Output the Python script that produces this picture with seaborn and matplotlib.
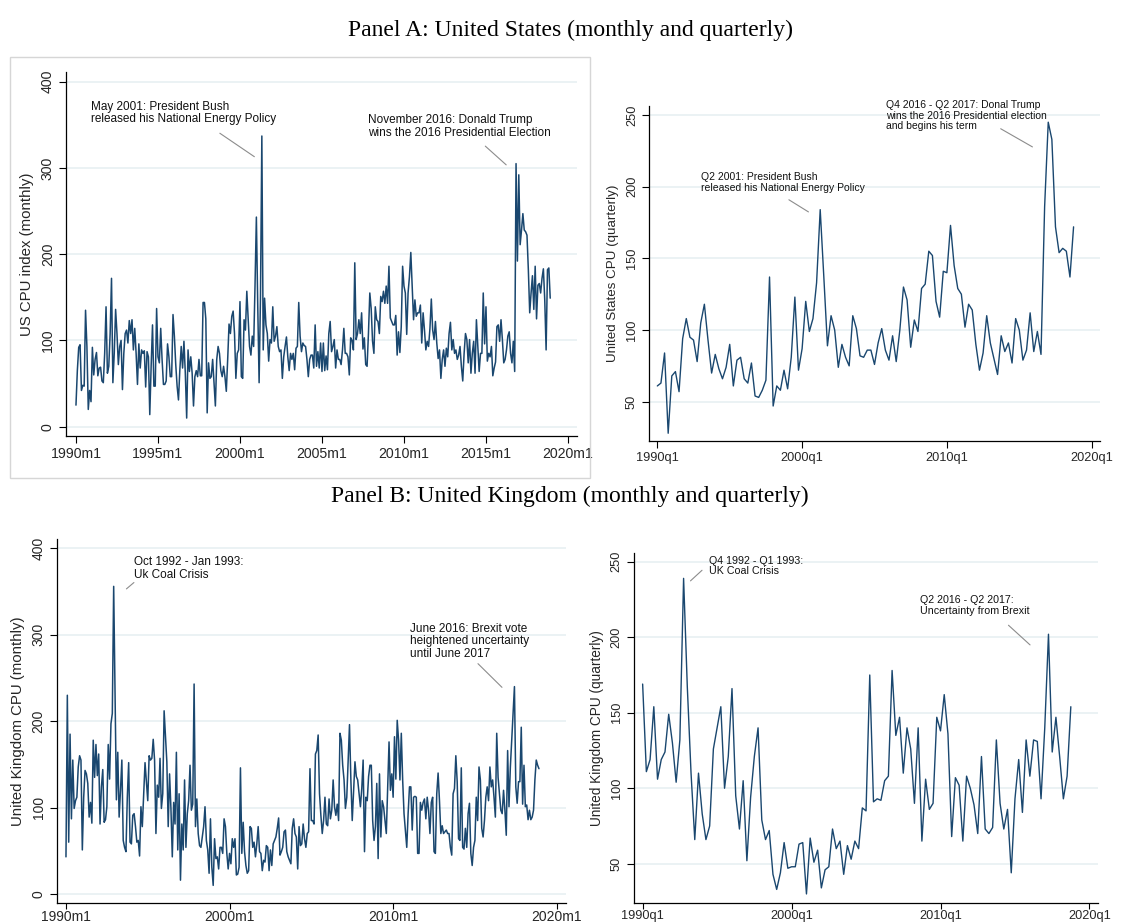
import numpy as np
import pandas as pd
import matplotlib
matplotlib.use("Agg")
import matplotlib.pyplot as plt
import seaborn as sns
from matplotlib.patches import Rectangle

# ---------------- data ----------------
# US monthly CPU index, one row per year 1990..2018 (Jan..Dec)
us_monthly_rows = [
    [25, 65, 92, 95, 42, 48, 47, 135, 93, 20, 42, 29],
    [92, 60, 78, 86, 59, 68, 69, 53, 51, 85, 139, 62],
    [70, 108, 172, 51, 85, 136, 108, 72, 93, 100, 43, 85],
    [108, 112, 97, 123, 108, 124, 89, 114, 85, 49, 96, 68],
    [89, 85, 88, 46, 87, 81, 14, 70, 118, 47, 47, 137],
    [81, 74, 114, 78, 49, 49, 53, 96, 81, 58, 58, 130],
    [105, 72, 47, 31, 66, 93, 68, 99, 62, 10, 89, 64],
    [81, 62, 24, 58, 65, 58, 78, 59, 59, 144, 144, 125],
    [16, 74, 56, 58, 78, 51, 24, 78, 93, 85, 65, 58],
    [70, 58, 41, 78, 119, 108, 128, 134, 108, 56, 85, 89],
    [145, 58, 56, 124, 112, 157, 124, 93, 83, 105, 93, 163],
    [243, 140, 51, 150, 337, 89, 149, 118, 108, 76, 101, 97],
    [139, 99, 105, 116, 93, 87, 89, 56, 81, 93, 104, 81],
    [65, 85, 78, 85, 66, 91, 93, 144, 105, 87, 97, 94],
    [93, 78, 58, 78, 83, 83, 68, 118, 70, 87, 68, 97],
    [64, 97, 65, 82, 66, 108, 122, 87, 93, 101, 68, 89],
    [78, 78, 72, 89, 114, 85, 85, 81, 60, 103, 100, 89],
    [190, 101, 108, 124, 108, 132, 90, 103, 72, 70, 108, 155],
    [137, 99, 85, 139, 124, 122, 108, 151, 145, 157, 143, 163],
    [143, 186, 126, 122, 118, 118, 129, 83, 110, 86, 116, 186],
    [163, 155, 107, 155, 174, 202, 163, 124, 147, 128, 132, 132],
    [141, 97, 132, 112, 89, 99, 93, 114, 148, 112, 101, 122],
    [97, 79, 89, 56, 78, 89, 70, 91, 81, 108, 121, 89],
    [101, 85, 89, 78, 83, 93, 70, 53, 85, 108, 101, 74],
    [101, 62, 85, 99, 62, 124, 93, 64, 85, 85, 155, 96],
    [139, 76, 85, 81, 93, 59, 68, 75, 116, 118, 99, 124],
    [101, 74, 78, 89, 105, 110, 85, 74, 99, 64, 305, 192],
    [292, 211, 228, 247, 228, 226, 222, 182, 132, 155, 175, 136],
    [186, 125, 164, 166, 155, 172, 183, 147, 89, 182, 184, 149],
]

# US quarterly CPU, one row per year 1990..2018 (Q1..Q4)
us_quarterly_rows = [
    [61, 63, 84, 28], [68, 71, 57, 94], [108, 95, 93, 78], [105, 118, 93, 70],
    [83, 73, 66, 74], [90, 61, 79, 81], [66, 63, 77, 54], [53, 58, 65, 137],
    [47, 61, 58, 72], [59, 81, 123, 72], [87, 120, 99, 108], [133, 184, 137, 89],
    [110, 100, 74, 90], [81, 75, 110, 101], [82, 81, 86, 86], [76, 91, 101, 86],
    [79, 96, 78, 100], [130, 121, 88, 107], [99, 129, 132, 155], [152, 120, 109, 141],
    [140, 173, 145, 129], [125, 102, 118, 114], [90, 72, 84, 110], [91, 80, 69, 96],
    [85, 91, 77, 108], [100, 79, 86, 112], [85, 99, 83, 186], [245, 233, 172, 154],
    [157, 155, 137, 172],
]

# UK monthly CPU, one row per year 1990..2018 (Jan..Dec)
uk_monthly_rows = [
    [43, 230, 60, 185, 87, 155, 99, 108, 112, 147, 160, 155],
    [51, 112, 143, 139, 128, 89, 106, 82, 178, 135, 173, 137],
    [162, 81, 124, 144, 83, 86, 101, 173, 133, 197, 209, 356],
    [230, 109, 164, 89, 120, 155, 62, 54, 49, 112, 152, 60],
    [58, 91, 93, 78, 60, 62, 44, 101, 78, 116, 152, 130],
    [108, 160, 155, 157, 179, 155, 70, 126, 112, 157, 99, 116],
    [212, 182, 153, 78, 139, 99, 43, 106, 81, 164, 51, 116],
    [16, 81, 51, 132, 54, 93, 108, 149, 97, 104, 243, 78],
    [110, 70, 56, 54, 66, 78, 101, 62, 51, 24, 87, 31],
    [10, 64, 41, 43, 29, 54, 54, 47, 87, 78, 47, 29],
    [47, 35, 64, 54, 64, 22, 23, 31, 146, 47, 83, 49],
    [33, 24, 27, 78, 76, 54, 60, 43, 58, 78, 49, 47],
    [27, 39, 37, 56, 54, 27, 51, 33, 58, 62, 66, 76],
    [88, 45, 49, 54, 72, 74, 49, 43, 39, 35, 76, 87],
    [70, 66, 29, 78, 56, 58, 81, 64, 54, 70, 72, 145],
    [85, 85, 81, 162, 166, 184, 116, 91, 70, 85, 112, 81],
    [79, 110, 87, 97, 132, 101, 91, 104, 85, 186, 178, 149],
    [132, 99, 112, 155, 196, 132, 85, 120, 153, 136, 132, 116],
    [101, 122, 155, 49, 112, 108, 136, 149, 149, 85, 62, 78],
    [128, 41, 139, 66, 108, 101, 85, 70, 122, 176, 120, 139],
    [112, 182, 133, 201, 178, 132, 186, 132, 93, 74, 54, 93],
    [124, 124, 74, 112, 113, 112, 47, 47, 106, 97, 106, 110],
    [87, 112, 97, 70, 106, 112, 49, 47, 116, 140, 108, 70],
    [79, 70, 72, 74, 70, 70, 54, 45, 116, 122, 160, 130],
    [64, 62, 146, 54, 52, 76, 54, 93, 105, 47, 33, 54],
    [62, 112, 85, 147, 132, 76, 66, 85, 112, 124, 108, 147],
    [124, 132, 112, 89, 186, 135, 116, 97, 93, 120, 97, 68],
    [166, 101, 147, 178, 207, 240, 124, 105, 130, 130, 193, 104],
    [149, 101, 103, 86, 97, 86, 89, 97, 132, 155, 149, 145],
]

# UK quarterly CPU, one row per year 1990..2018 (Q1..Q4)
uk_quarterly_rows = [
    [169, 111, 119, 154], [106, 119, 124, 149], [130, 104, 132, 239], [167, 110, 66, 110],
    [83, 66, 75, 126], [140, 154, 100, 121], [166, 95, 73, 105], [52, 94, 121, 140],
    [79, 66, 72, 43], [33, 44, 64, 47], [48, 48, 63, 64], [30, 67, 51, 59],
    [34, 46, 48, 73], [60, 65, 43, 62], [53, 65, 60, 87], [85, 175, 91, 93],
    [92, 105, 108, 178], [135, 147, 110, 140], [126, 90, 140, 65], [106, 86, 90, 147],
    [138, 162, 136, 68], [107, 102, 65, 108], [100, 89, 70, 121], [73, 70, 74, 132],
    [90, 73, 86, 44], [93, 119, 84, 132], [108, 132, 131, 93], [140, 202, 124, 147],
    [121, 93, 108, 154],
]

monthly_tick_labels = ["1990m1", "1995m1", "2000m1", "2005m1", "2010m1", "2015m1", "2020m1"]
monthly_tick_labels_uk = ["1990m1", "2000m1", "2010m1", "2020m1"]
quarterly_tick_labels = ["1990q1", "2000q1", "2010q1", "2020q1"]

panel_titles = ["Panel A: United States (monthly and quarterly)",
                "Panel B: United Kingdom (monthly and quarterly)"]


def flat(rows):
    return [v for r in rows for v in r]


def series_frame(rows):
    vals = flat(rows)
    return pd.DataFrame({"t": np.arange(len(vals)), "cpu": vals})


us_m = series_frame(us_monthly_rows)
us_q = series_frame(us_quarterly_rows)
uk_m = series_frame(uk_monthly_rows)
uk_q = series_frame(uk_quarterly_rows)

# ---------------- styling ----------------
sns.set_style("ticks")
plt.rcParams['font.family'] = ['Liberation Sans', 'DejaVu Sans']

LINE = '#1a476f'
GRID = '#e8f0f2'
ANN = '#8c8c8c'

W, H = 1140, 924
fig = plt.figure(figsize=(W / 100, H / 100), dpi=100)


def px_axes(x0, y0, x1, y1):
    return fig.add_axes([x0 / W, 1 - y1 / H, (x1 - x0) / W, (y1 - y0) / H])


def style(ax, xlim, ylim, xticks, xlabels, yticks, ylabel, tfs, lfs, xpad=3, xlen=5):
    ax.set_xlim(xlim)
    ax.set_ylim(ylim)
    ax.set_xticks(xticks)
    ax.set_xticklabels(xlabels, fontsize=tfs)
    ax.set_yticks(yticks)
    ax.set_yticklabels([str(v) for v in yticks], rotation=90, va='center', fontsize=tfs)
    ax.set_ylabel(ylabel, fontsize=lfs, labelpad=5)
    ax.set_xlabel('')
    for s in ['top', 'right']:
        ax.spines[s].set_visible(False)
    for s in ['left', 'bottom']:
        ax.spines[s].set_linewidth(0.9)
        ax.spines[s].set_color('black')
    ax.grid(axis='y', color=GRID, lw=1.2)
    ax.grid(axis='x', visible=False)
    ax.set_axisbelow(True)
    ax.tick_params(direction='out', length=5, width=0.8, color='black', pad=3)
    ax.tick_params(axis='x', pad=xpad, length=xlen)
    ax.set_facecolor('white')


def note(ax, text, xy_text, p0, p1, fs):
    ax.text(xy_text[0], xy_text[1], text, fontsize=fs, va='top', ha='left',
            color='#111111', linespacing=1.08, clip_on=False)
    ax.annotate('', xy=p1, xytext=p0, annotation_clip=False,
                arrowprops=dict(arrowstyle='-', color=ANN, lw=0.8))


# gray frame around the first panel
fig.patches.append(Rectangle((10 / W, 1 - 478 / H), 580 / W, 421 / H,
                             transform=fig.transFigure, fill=False,
                             edgecolor='#d6d6d6', lw=1.0))

fig.text(0.5, 1 - 30 / H, panel_titles[0], ha='center', va='center',
         fontsize=17, family='Liberation Serif', color='black')
fig.text(0.5, 1 - 496 / H, panel_titles[1], ha='center', va='center',
         fontsize=17, family='Liberation Serif', color='black')

# ---- Panel A left: US monthly ----
ax1 = px_axes(66, 72, 577, 436)
sns.lineplot(data=us_m, x='t', y='cpu', ax=ax1, color=LINE, lw=1.1)
style(ax1, (-7.3, 366.6), (-10.8, 411.2), np.arange(0, 361, 60), monthly_tick_labels,
      [0, 100, 200, 300, 400], 'US CPU index (monthly)', 10.2, 10.8)
note(ax1, 'May 2001: President Bush\nreleased his National Energy Policy',
     (11, 378), (103.6, 342), (132.2, 311.2), 8.5)
note(ax1, 'November 2016: Donald Trump\nwins the 2016 Presidential Election',
     (213.9, 362), (298.0, 327.4), (316.3, 301.4), 8.5)

# ---- Panel A right: US quarterly ----
ax2 = px_axes(649, 106, 1100, 440.7)
sns.lineplot(data=us_q, x='t', y='cpu', ax=ax2, color=LINE, lw=1.0)
style(ax2, (-2.3, 122.3), (22.8, 256.3), [0, 40, 80, 120], quarterly_tick_labels,
      [50, 100, 150, 200, 250], 'United States CPU (quarterly)', 9.2, 9.6)
note(ax2, 'Q2 2001: President Bush\nreleased his National Energy Policy',
     (12.2, 210), (35.7, 191.9), (42.4, 181.4), 7.5)
note(ax2, 'Q4 2016 - Q2 2017: Donal Trump\nwins the 2016 Presidential election\nand begins his term',
     (63.1, 260.5), (94.2, 241.4), (104.3, 226.8), 7.5)

# ---- Panel B left: UK monthly ----
ax3 = px_axes(56.7, 539, 565.7, 903)
sns.lineplot(data=uk_m, x='t', y='cpu', ax=ax3, color=LINE, lw=1.1)
style(ax3, (-6.8, 366.6), (-10.4, 410.8), [0, 120, 240, 360], monthly_tick_labels_uk,
      [0, 100, 200, 300, 400], 'United Kingdom CPU (monthly)', 10.0, 10.8, xpad=1, xlen=4)
note(ax3, 'Oct 1992 - Jan 1993:\nUk Coal Crisis', (49.9, 391), (51.4, 362.5), (42.8, 351), 8.5)
note(ax3, 'June 2016: Brexit vote\nheightened uncertainty\nuntil June 2017',
     (252.4, 314), (300.8, 268.8), (321.3, 236.9), 8.5)

# ---- Panel B right: UK quarterly ----
ax4 = px_axes(633.7, 553.3, 1098, 902.7)
sns.lineplot(data=uk_q, x='t', y='cpu', ax=ax4, color=LINE, lw=1.0)
style(ax4, (-2.4, 122.3), (24.2, 255.6), [0, 40, 80, 120], quarterly_tick_labels,
      [50, 100, 150, 200, 250], 'United Kingdom CPU (quarterly)', 9.2, 9.8, xpad=1, xlen=4)
note(ax4, 'Q4 1992 - Q1 1993:\nUK Coal Crisis', (17.8, 254), (16.5, 245.6), (12.3, 236.1), 7.7)
note(ax4, 'Q2 2016 - Q2 2017:\nUncertainty from Brexit', (74.5, 228), (97.7, 209.2), (104.6, 193.7), 7.7)

fig.savefig('out.png', dpi=100, facecolor='white')
